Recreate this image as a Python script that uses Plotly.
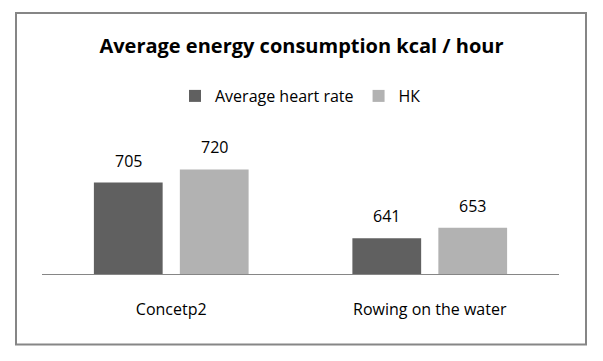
import plotly.graph_objects as go

categories = ["Concetp2", "Rowing on the water"]
series_names = ["Average heart rate", "НК"]
heart_rate_values = [705, 641]
nk_values = [720, 653]
colors = ["#606060", "#b2b2b2"]

W, H = 603, 361
L, R, T, B = 42, 44, 152, 87
pw, ph = W - L - R, H - T - B

fig = go.Figure()
fig.add_trace(go.Bar(x=categories, y=heart_rate_values, name=series_names[0],
                     marker=dict(color=colors[0], line=dict(width=0))))
fig.add_trace(go.Bar(x=categories, y=nk_values, name=series_names[1],
                     marker=dict(color=colors[1], line=dict(width=0))))

font_family = "'Open Sans', sans-serif"
annotations = []
for vals, shift in ((heart_rate_values, -43), (nk_values, 43)):
    for c, v in zip(categories, vals):
        annotations.append(dict(x=c, y=v, xref="x", yref="y", text=str(v),
                                showarrow=False, xshift=shift, yshift=22,
                                yanchor="middle",
                                font=dict(size=16, color="#000", family=font_family)))

def px_x(p):
    return (p - L) / pw

def px_y(p):
    return (H - B - p) / ph

fig.update_layout(
    width=W, height=H,
    margin=dict(l=L, r=R, t=T, b=B, autoexpand=False),
    paper_bgcolor="white", plot_bgcolor="white",
    barmode="group", bargap=0.335, bargroupgap=0.2,
    title=dict(text="<b>Average energy consumption kcal / hour</b>",
               x=0.5, xanchor="center", y=1 - 46 / H, yanchor="middle",
               font=dict(size=20, color="#000", family=font_family)),
    legend=dict(orientation="h", x=0.5, xanchor="center", y=px_y(96), yanchor="middle",
                font=dict(size=16, color="#000", family=font_family),
                bgcolor="rgba(0,0,0,0)", itemwidth=30),
    xaxis=dict(showline=True, linecolor="#868686", linewidth=1, ticks="",
               ticklabelstandoff=21,
               tickfont=dict(size=16, color="#000", family=font_family),
               showgrid=False, zeroline=False),
    yaxis=dict(range=[600, 740], visible=False, showgrid=False, zeroline=False),
    annotations=annotations,
    shapes=[dict(type="rect", xref="paper", yref="paper",
                 x0=px_x(16), x1=px_x(586), y0=px_y(344.5), y1=px_y(13),
                 line=dict(color="#868686", width=2), fillcolor="rgba(0,0,0,0)",
                 layer="below")],
)

fig.write_html("out.html", config={"displayModeBar": False},
               post_script="document.body.style.margin='0';")
